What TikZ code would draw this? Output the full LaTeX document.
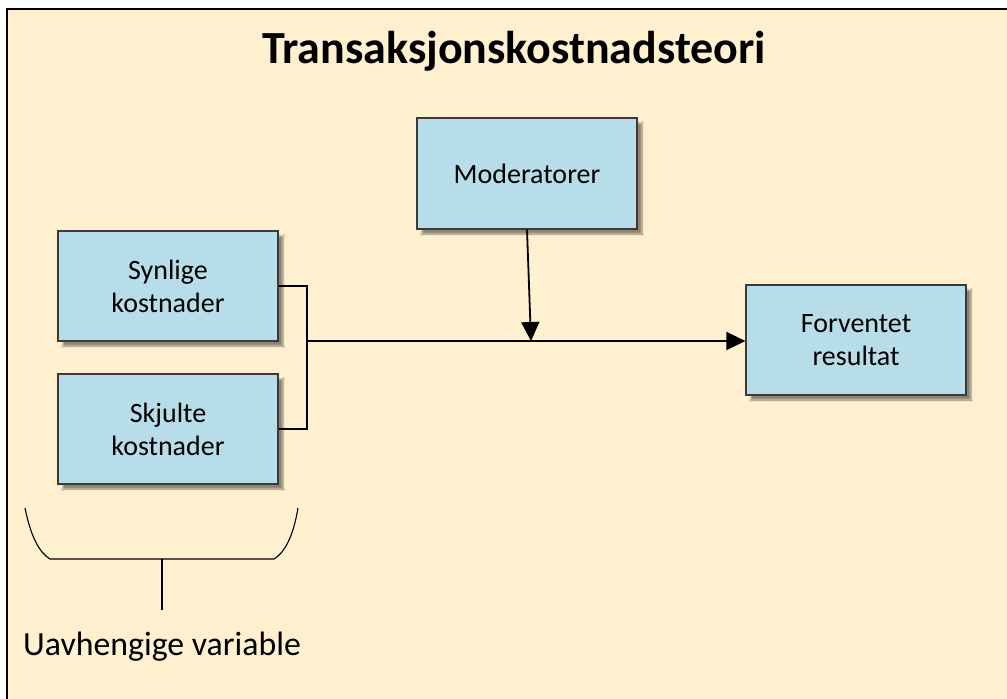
\documentclass[tikz,border=0pt]{standalone}
\usepackage{fontspec}
\setmainfont{Carlito}
\usetikzlibrary{arrows.meta,shadows.blur}
\definecolor{paper}{HTML}{FFF1CF}
\definecolor{boxfill}{HTML}{B7DDE8}
\definecolor{boxline}{HTML}{3A3A3A}
\tikzset{
  concept/.style={draw=boxline, line width=1.2pt, fill=boxfill,
    minimum width=220pt, minimum height=110pt, align=center,
    font=\fontsize{28}{33}\selectfont, text=black,
    blur shadow={shadow xshift=5pt, shadow yshift=-5pt, shadow blur steps=6, shadow opacity=45}},
  link/.style={line width=1.8pt, black},
  flow/.style={link, -{Triangle[length=19pt,width=18pt]}},
  brace/.style={line width=1.1pt, black}
}
\begin{document}
\begin{tikzpicture}[x=1pt,y=-1pt]
  \useasboundingbox (0,0) rectangle (1007,699);
  % frame
  \fill[paper] (7,9) rectangle (1007,699);
  \draw[line width=2pt, black] (1007,9) -- (7,9) -- (7,699);

  % title
  \node[font=\fontsize{46}{52}\selectfont\bfseries] (title) at (514,51) {Transaksjonskostnadsteori};

  % boxes
  \node[concept, minimum height=111pt] (mod) at (527,173.5) {Moderatorer};
  \node[concept] (syn) at (168,286) {Synlige\\kostnader};
  \node[concept] (skj) at (168,429) {Skjulte\\kostnader};
  \node[concept] (res) at (856,340) {Forventet\\resultat};

  % connectors
  \coordinate (jtop) at (307,286);
  \coordinate (jbot) at (307,429);
  \coordinate (jmid) at (307,341);
  \coordinate (hit) at (531,341);
  \draw[link] (syn.east) -- (jtop) -- (jbot) -- (skj.east);
  \draw[flow] (jmid) -- (res.west |- jmid);
  \draw[flow] (mod.south) -- (hit);

  % brace under the independent variables
  \coordinate (bl) at (25,508);
  \coordinate (br) at (298,508);
  \coordinate (stem) at (162,559);
  \coordinate (stemend) at (162,610);
  \draw[brace] (bl) .. controls (31,538) and (40,553) .. (50,559) -- (274,559)
    .. controls (284,553) and (293,538) .. (br);
  \draw[link] (stem) -- (stemend);
  \node[anchor=base west, inner sep=0pt, font=\fontsize{33.8}{40}\selectfont] (uv) at (23,655) {Uavhengige variable};
\end{tikzpicture}
\end{document}
